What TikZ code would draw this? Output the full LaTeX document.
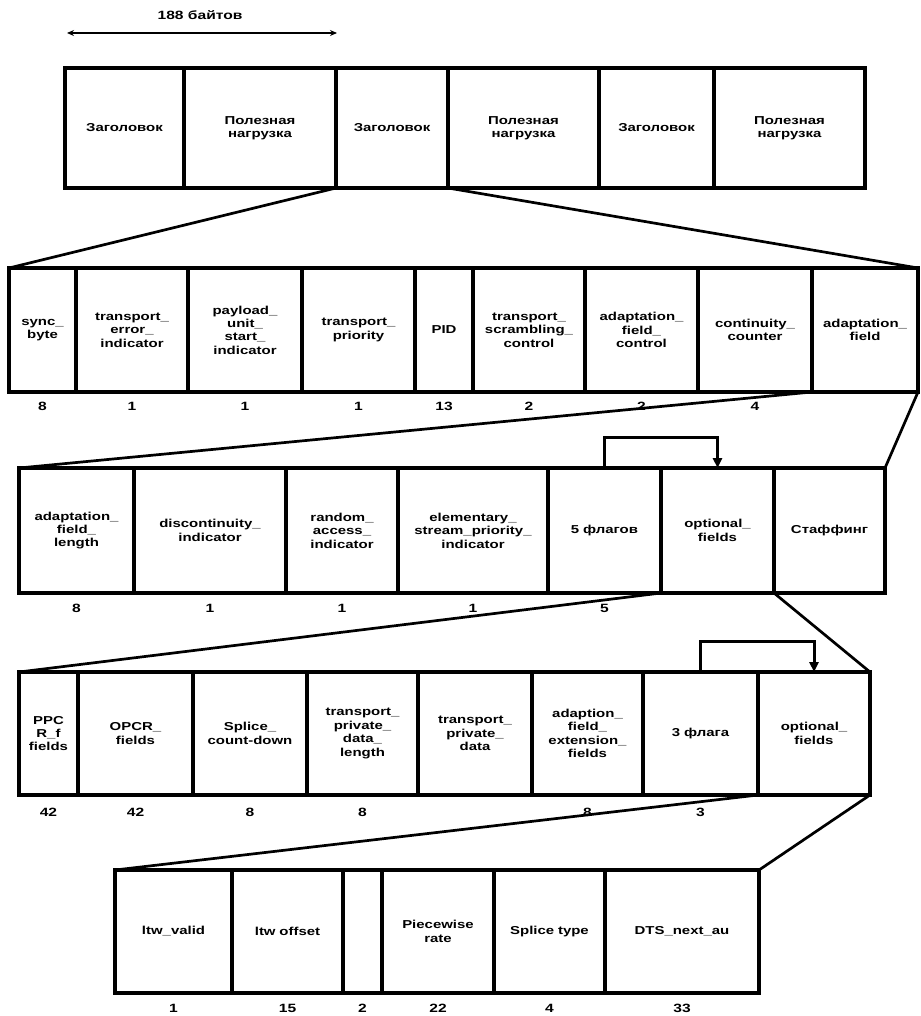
\documentclass[tikz,border=0pt]{standalone}
\usepackage{fontspec}
\setmainfont{Liberation Sans}[FakeStretch=1.3]
\usetikzlibrary{arrows.meta,calc}
\tikzset{
  cell/.style={draw, line width=3.2pt, outer sep=0pt, inner sep=1pt, align=center,
    font=\fontsize{11.5}{13.4}\bfseries\selectfont},
  num/.style={font=\fontsize{12}{13}\bfseries\selectfont, inner sep=0pt},
  fan/.style={line width=2.7pt},
  flagarrow/.style={line width=3pt, -{Triangle[length=10pt,width=9pt]}},
  dimarrow/.style={line width=2pt, {Stealth[length=7pt,width=6pt]}-{Stealth[length=7pt,width=6pt]}},
}
\newcommand\cellnode[6]{%
  \node[cell, minimum width={#3pt-#2pt}, minimum height={#5pt-#4pt}, text width={#3pt-#2pt-6pt}]
    (#1) at ({(#2+#3)/2},{(#4+#5)/2}) {#6};}
\begin{document}
\begin{tikzpicture}[x=1pt,y=-1pt]
\useasboundingbox (0,0) rectangle (920,1016);
\fill[white] (0,0) rectangle (920,1016);

% dimension
\coordinate (dimL) at (67,33);
\coordinate (dimR) at (337,33);
\draw[dimarrow] (dimL) -- (dimR);
\node[num] (dimT) at (200,15) {188 байтов};

% row 1
\cellnode{h1}{65}{184}{68}{188}{Заголовок}
\cellnode{p1}{184}{336}{68}{188}{Полезная\\нагрузка}
\cellnode{h2}{336}{448}{68}{188}{Заголовок}
\cellnode{p2}{448}{599}{68}{188}{Полезная\\нагрузка}
\cellnode{h3}{599}{714}{68}{188}{Заголовок}
\cellnode{p3}{714}{865}{68}{188}{Полезная\\нагрузка}

% row 2
\cellnode{sb}{9}{76}{268}{392}{sync\_\\byte}
\cellnode{tei}{76}{188}{268}{392}{transport\_\\error\_\\indicator}
\cellnode{pusi}{188}{302}{268}{392}{payload\_\\unit\_\\start\_\\indicator}
\cellnode{tp}{302}{415}{268}{392}{transport\_\\priority}
\cellnode{pid}{415}{473}{268}{392}{PID}
\cellnode{tsc}{473}{585}{268}{392}{transport\_\\scrambling\_\\control}
\cellnode{afc}{585}{698}{268}{392}{adaptation\_\\field\_\\control}
\cellnode{cc}{698}{812}{268}{392}{continuity\_\\counter}
\cellnode{af}{812}{918}{268}{392}{adaptation\_\\field}

% row 3
\cellnode{afl}{19}{134}{468}{593}{adaptation\_\\field\_\\length}
\cellnode{di}{134}{286}{468}{593}{discontinuity\_\\indicator}
\cellnode{rai}{286}{398}{468}{593}{random\_\\access\_\\indicator}
\cellnode{espi}{398}{548}{468}{593}{elementary\_\\stream\_priority\_\\indicator}
\cellnode{f5}{548}{661}{468}{593}{5 флагов}
\cellnode{of1}{661}{774}{468}{593}{optional\_\\fields}
\cellnode{st}{774}{885}{468}{593}{Стаффинг}

% row 4
\cellnode{pcr}{19}{78}{672}{795}{PPC\\R\_f\\fields}
\cellnode{opcr}{78}{193}{672}{795}{OPCR\_\\fields}
\cellnode{scd}{193}{307}{672}{795}{Splice\_\\count-down}
\cellnode{tpdl}{307}{418}{672}{795}{transport\_\\private\_\\data\_\\length}
\cellnode{tpd}{418}{532}{672}{795}{transport\_\\private\_\\data}
\cellnode{afe}{532}{643}{672}{795}{adaption\_\\field\_\\extension\_\\fields}
\cellnode{f3}{643}{758}{672}{795}{3 флага}
\cellnode{of2}{758}{870}{672}{795}{optional\_\\fields}

% row 5
\cellnode{ltwv}{115}{232}{870}{993}{ltw\_valid}
\cellnode{ltwo}{232}{343}{870}{993}{ltw offset}
\cellnode{res}{343}{382}{870}{993}{}
\cellnode{pwr}{382}{494}{870}{993}{Piecewise\\rate}
\cellnode{spt}{494}{605}{870}{993}{Splice type}
\cellnode{dts}{605}{759}{870}{993}{DTS\_next\_au}

% numbers
\foreach \c/\v in {sb/8, tei/1, pusi/1, tp/1, pid/13, tsc/2, afc/2, cc/4}
  \node[num] (n\c) at ([yshift=-14pt]\c.south) {\v};
\foreach \c/\v in {afl/8, di/1, rai/1, espi/1, f5/5}
  \node[num] (n\c) at ([yshift=-15pt]\c.south) {\v};
\foreach \c/\v in {pcr/42, opcr/42, scd/8, tpdl/8, afe/8, f3/3}
  \node[num] (n\c) at ([yshift=-17pt]\c.south) {\v};
\foreach \c/\v in {ltwv/1, ltwo/15, res/2, pwr/22, spt/4, dts/33}
  \node[num] (n\c) at ([yshift=-15pt]\c.south) {\v};

% fan lines
\draw[fan] (h2.south west) -- (sb.north west);
\draw[fan] (h2.south east) -- (af.north east);
\draw[fan] (af.south west) -- (afl.north west);
\draw[fan] (af.south east) -- (st.north east);
\draw[fan] (of1.south west) -- (pcr.north west);
\draw[fan] (of1.south east) -- (of2.north east);
\draw[fan] (of2.south west) -- (ltwv.north west);
\draw[fan] (of2.south east) -- (dts.north east);

% flag arrows
\draw[flagarrow] (f5.north) -- ++(0,-31) -| (of1.north);
\draw[flagarrow] (f3.north) -- ++(0,-31) -| (of2.north);
\end{tikzpicture}
\end{document}
